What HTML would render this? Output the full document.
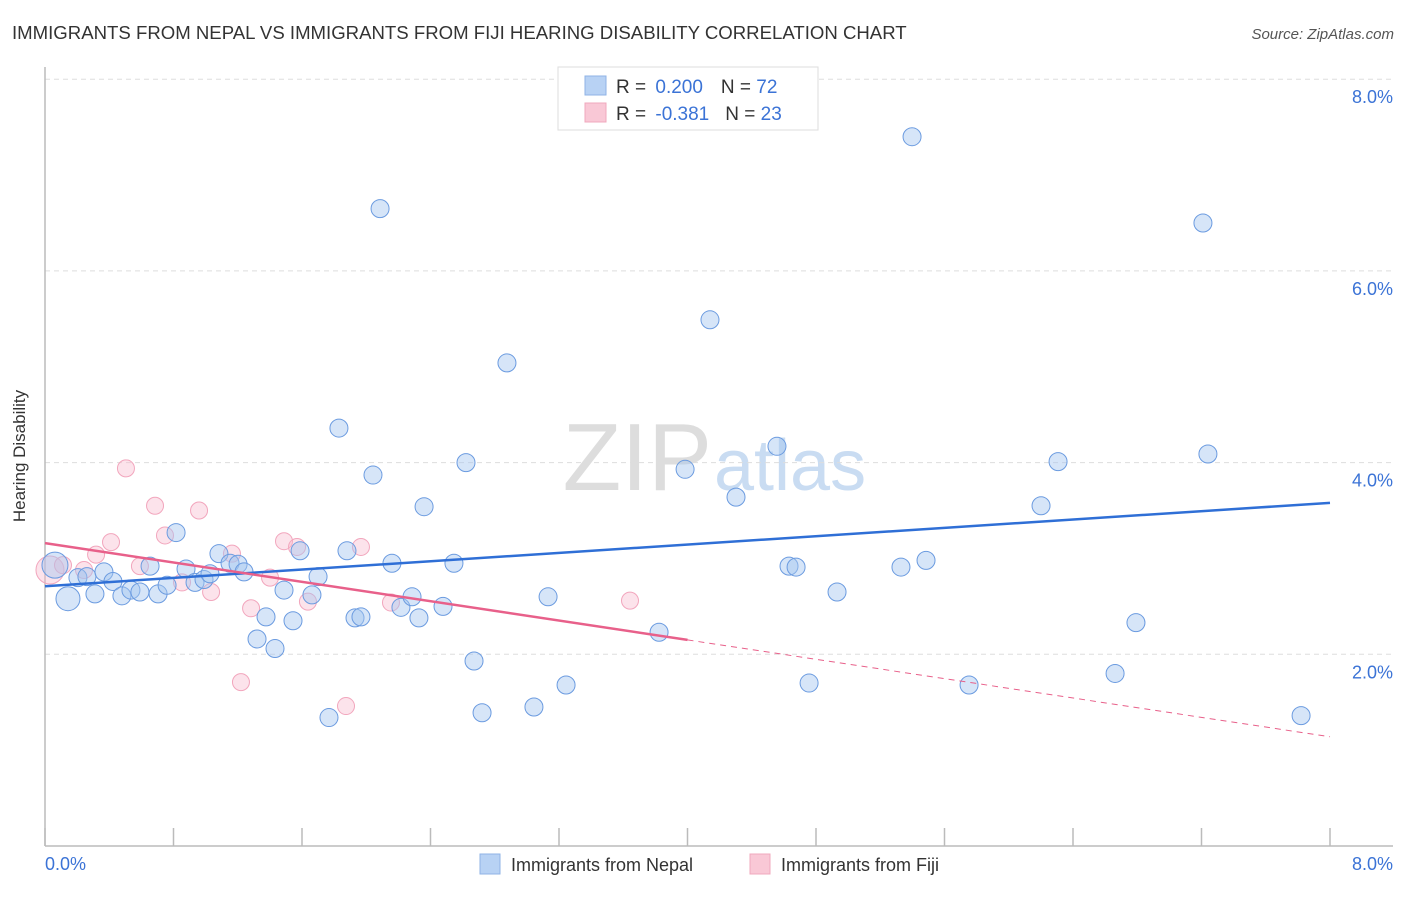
<!DOCTYPE html>
<html><head><meta charset="utf-8"><style>
body{margin:0;background:#fff;font-family:"Liberation Sans",sans-serif;}
svg text{font-family:"Liberation Sans",sans-serif;}
</style></head><body>
<svg id="chart" width="1406" height="892" viewBox="0 0 1406 892" xmlns="http://www.w3.org/2000/svg">
<text x="12" y="39" font-size="18.6" fill="#333">IMMIGRANTS FROM NEPAL VS IMMIGRANTS FROM FIJI HEARING DISABILITY CORRELATION CHART</text>
<text x="1394" y="39" font-size="15" fill="#555" font-style="italic" text-anchor="end">Source: ZipAtlas.com</text>
<text x="712" y="490" font-size="96" fill="#ddd" text-anchor="end" font-family="Liberation Serif">ZIP</text>
<text x="714" y="490" font-size="72" fill="#c9dcf2">atlas</text>
<g id="grid"></g>
<line x1="45" y1="67" x2="45" y2="846" stroke="#bbb" stroke-width="1.5"/>
<line x1="45" y1="846" x2="1393" y2="846" stroke="#bbb" stroke-width="1.5"/>
<g id="ticks"></g>
<text x="25" y="456" font-size="17" fill="#333" text-anchor="middle" transform="rotate(-90 25 456)">Hearing Disability</text>
<text x="45" y="870" font-size="18" fill="#3b73d6">0.0%</text>
<text x="1393" y="870" font-size="18" fill="#3b73d6" text-anchor="end">8.0%</text>
<g id="points"></g>
<g id="trends"></g>
<g>
<rect x="558" y="67" width="260" height="63" fill="#fff" stroke="#ddd"/>
<rect x="585" y="76" width="21" height="19" fill="#b8d2f4" stroke="#8fb3e6"/>
<rect x="585" y="103" width="21" height="19" fill="#f9c8d6" stroke="#f0a8bd"/>
<text x="616" y="93" font-size="19" fill="#333">R = <tspan fill="#3b73d6" dx="4">0.200</tspan><tspan dx="18">N = </tspan><tspan fill="#3b73d6">72</tspan></text>
<text x="616" y="120" font-size="19" fill="#333">R = <tspan fill="#3b73d6" dx="4">-0.381</tspan><tspan dx="16">N = </tspan><tspan fill="#3b73d6">23</tspan></text>
</g>
<g>
<rect x="480" y="854" width="20" height="20" fill="#b8d2f4" stroke="#8fb3e6"/>
<text x="511" y="871" font-size="18" fill="#333">Immigrants from Nepal</text>
<rect x="750" y="854" width="20" height="20" fill="#f9c8d6" stroke="#f0a8bd"/>
<text x="781" y="871" font-size="18" fill="#333">Immigrants from Fiji</text>
</g>
</svg>
<script>
const yTicks=[2,4,6,8];
const yTickLabels=["2.0%","4.0%","6.0%","8.0%"];
const xTicks=[0,0.8,1.6,2.4,3.2,4.0,4.8,5.6,6.4,7.2,8.0];
const nepalX=[.062,.143,.205,.261,.311,.367,.423,.479,.535,.591,.654,.704,.760,.816,.878,.934,.990,1.027,1.083,1.152,1.202,1.239,1.320,1.376,1.432,1.488,1.544,1.588,1.662,1.700,1.768,1.830,1.880,1.930,1.967,2.042,2.086,2.160,2.216,2.285,2.328,2.360,2.478,2.546,2.621,2.671,2.721,2.876,3.044,3.132,3.244,3.823,3.985,4.140,4.302,4.557,4.632,4.676,4.757,4.931,5.329,5.398,5.485,5.753,6.201,6.307,6.662,6.792,7.209,7.240,7.820];
const nepalY=[2.93,2.58,2.80,2.81,2.63,2.86,2.76,2.61,2.67,2.65,2.92,2.63,2.72,3.27,2.89,2.75,2.78,2.84,3.05,2.95,2.94,2.86,2.16,2.39,2.06,2.67,2.35,3.08,2.62,2.81,1.34,4.36,3.08,2.38,2.39,3.87,6.65,2.95,2.49,2.60,2.38,3.54,2.50,2.95,4.00,1.93,1.39,5.04,1.45,2.60,1.68,2.23,3.93,5.49,3.64,4.17,2.92,2.91,1.70,2.65,2.91,7.40,2.98,1.68,3.55,4.01,1.80,2.33,6.50,4.09,1.36];
const nepalR=[13,12];
const fijiX=[.031,.112,.243,.318,.411,.504,.591,.685,.747,.853,.959,1.034,1.164,1.220,1.283,1.401,1.488,1.569,1.637,1.874,1.967,2.154,3.642];
const fijiY=[2.88,2.93,2.88,3.04,3.17,3.94,2.92,3.55,3.24,2.75,3.50,2.65,3.05,1.71,2.48,2.80,3.18,3.12,2.55,1.46,3.12,2.54,2.56];
const nepalTrend=[2.71,3.58];
const fijiTrend=[3.16,1.14];
const fijiSolidEnd=4.0;
const X=v=>45+v/8*1285;
const Y=v=>846-v*95.85;
const NS="http://www.w3.org/2000/svg";
function mk(tag,attrs,parent){const e=document.createElementNS(NS,tag);for(const k in attrs)e.setAttribute(k,attrs[k]);parent.appendChild(e);return e;}
const grid=document.getElementById('grid');
yTicks.forEach((t,i)=>{
 const l=mk('line',{x1:45,x2:1393,y1:Y(t),y2:Y(t),stroke:'#ddd','stroke-dasharray':'5,4'},grid);
 
 
 const tx=mk('text',{x:1393,y:Y(t)+24,'font-size':18,fill:'#3b73d6','text-anchor':'end'},grid);
 tx.textContent=yTickLabels[i];
 
 
});
const ticks=document.getElementById('ticks');
xTicks.forEach(t=>{
 const l=mk('line',{x1:X(t),x2:X(t),y1:828,y2:846,stroke:'#bbb','stroke-width':1.5},ticks);
 
 
});
const pts=document.getElementById('points');
fijiX.forEach((x,i)=>{
 const c=mk('circle',{cx:X(x),cy:Y(fijiY[i]),r:i===0?14:8.5,fill:'rgba(248,185,205,0.4)',stroke:'#f2a6bd','stroke-width':1},pts);
 
 
});
nepalX.forEach((x,i)=>{
 const c=mk('circle',{cx:X(x),cy:Y(nepalY[i]),r:nepalR[i]||9,fill:'rgba(165,198,240,0.45)',stroke:'#6b9be0','stroke-width':1},pts);
 
 
});
const tr=document.getElementById('trends');
const fy=x=>fijiTrend[0]+(fijiTrend[1]-fijiTrend[0])*x/8;
let a=mk('line',{x1:X(0),y1:Y(nepalTrend[0]),x2:X(8),y2:Y(nepalTrend[1]),stroke:'#2f6fd6','stroke-width':2.5},tr);


let b=mk('line',{x1:X(0),y1:Y(fy(0)),x2:X(fijiSolidEnd),y2:Y(fy(fijiSolidEnd)),stroke:'#e8608a','stroke-width':2.5},tr);


let d=mk('line',{x1:X(fijiSolidEnd),y1:Y(fy(fijiSolidEnd)),x2:X(8),y2:Y(fy(8)),stroke:'#e8608a','stroke-width':1,'stroke-dasharray':'6,5'},tr);


</script>
</body></html>
